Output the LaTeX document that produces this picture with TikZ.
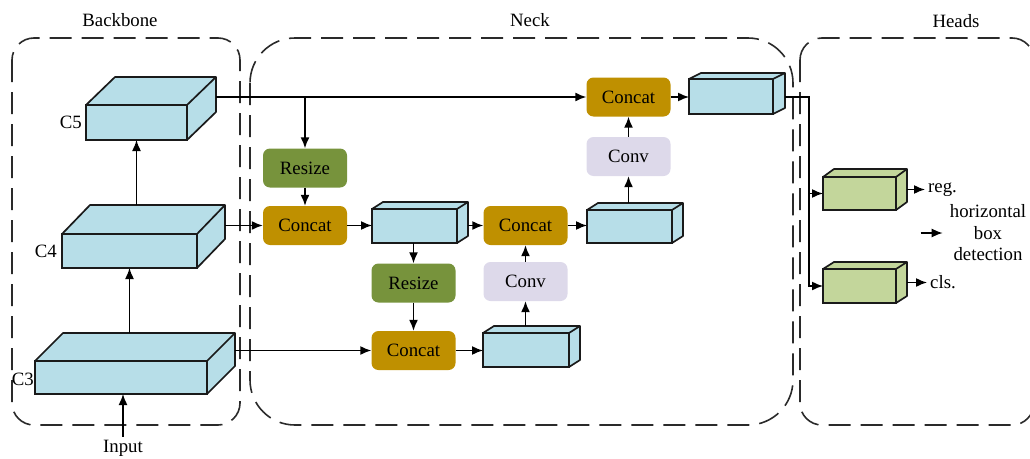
\documentclass[tikz,border=0pt]{standalone}
\usepackage{fontspec}
\setmainfont{Liberation Serif}
\usepackage{tikz}
\usetikzlibrary{positioning,calc,arrows.meta}
\definecolor{cubeblue}{HTML}{B7DEE8}
\definecolor{headgreen}{HTML}{C3D69B}
\definecolor{concatgold}{HTML}{BF9000}
\definecolor{resizegreen}{HTML}{77933C}
\definecolor{convlilac}{HTML}{DDD9EA}
\definecolor{cubeline}{HTML}{1A1A1A}
\definecolor{regionline}{HTML}{2A2A2A}
\newcommand{\cubefaces}[4]{%
  \filldraw[cubeedge, fill=#4] (#1.north west) -- ++(#2,#3) -- ($(#1.north east)+(#2,#3)$) -- ($(#1.south east)+(#2,#3)$) -- (#1.south east) -- (#1.north east) -- cycle;
  \draw[cubeedge] (#1.north east) -- ++(#2,#3);
  \coordinate (#1-bk) at ($(#1.north east)+(#2,#3)$);
  \coordinate (#1-sd) at ($(#1.east)+(#2,#3/2)$);}

\begin{document}
\begin{tikzpicture}[x=1pt, y=-1pt, lbl/.style={font=\fontsize{18.8}{21.5}\selectfont, inner sep=3pt}, cube/.style={draw=cubeline, line width=1.7pt, fill=cubeblue, inner sep=0pt, outer sep=0pt}, cubeedge/.style={draw=cubeline, line width=1.7pt, line join=round}, block/.style={rounded corners=7pt, minimum width=84pt, minimum height=39pt, inner sep=0pt, font=\fontsize{18.8}{21.5}\selectfont}, arrow/.style={-{Latex[length=11pt,width=9pt]}, line width=1.5pt}, region/.style={draw=regionline, dash pattern=on 22pt off 10pt, line width=1.6pt}]
\useasboundingbox (0,0) rectangle (1030,458);
\draw[region, rounded corners=22pt] (12,38) rectangle (240,425);
\draw[region, rounded corners=45pt] (250,38) rectangle (793,425);
\draw[region, rounded corners=22pt] (800,38) rectangle (1034,425);
\node[lbl] (bbl) at (120,20) {Backbone};
\node[lbl] (nkl) at (530,20) {Neck};
\node[lbl] (hdl) at (956,21) {Heads};
\node[cube, minimum width=101pt, minimum height=35pt] (c5) at (136.5,122.5) {};
\cubefaces{c5}{29}{-28}{cubeblue}
\node[cube, minimum width=135pt, minimum height=34pt] (c4) at (129.5,251) {};
\cubefaces{c4}{28}{-29}{cubeblue}
\node[cube, minimum width=172pt, minimum height=33pt] (c3) at (121,377.5) {};
\cubefaces{c3}{28}{-28}{cubeblue}
\node[lbl, left=1pt of c5.west] (c5l) {C5};
\node[lbl, left=2pt of c4.west] (c4l) {C4};
\node[lbl, anchor=east, inner sep=1pt] (c3l) at ([yshift=-2pt]c3.west) {C3};
\node[lbl] (input) at (123,448) {Input};
\node[block, fill=resizegreen] (rs1) at (305,168) {Resize};
\node[block, fill=concatgold] (cc1) at (305,225.5) {Concat};
\node[cube, minimum width=85pt, minimum height=34pt] (n1) at (414.5,226) {};
\cubefaces{n1}{11}{-7}{cubeblue}
\node[block, fill=concatgold] (cc2) at (525.5,225.5) {Concat};
\node[cube, minimum width=85pt, minimum height=33pt] (n2) at (629.5,226.5) {};
\cubefaces{n2}{11}{-7}{cubeblue}
\node[block, fill=convlilac] (conv1) at (628.5,156.5) {Conv};
\node[block, fill=concatgold] (cc3) at (628.5,97) {Concat};
\node[cube, minimum width=84pt, minimum height=35pt] (n3) at (731,96.5) {};
\cubefaces{n3}{12}{-6}{cubeblue}
\node[block, fill=resizegreen] (rs2) at (413.5,283) {Resize};
\node[block, fill=concatgold] (cc4) at (413.5,350.5) {Concat};
\node[block, fill=convlilac] (conv2) at (525.5,281.5) {Conv};
\node[cube, minimum width=86pt, minimum height=34pt] (n4) at (526,350) {};
\cubefaces{n4}{11}{-7}{cubeblue}
\node[cube, fill=headgreen, minimum width=73pt, minimum height=33pt] (h1) at (859.5,193.5) {};
\cubefaces{h1}{11}{-8}{headgreen}
\node[cube, fill=headgreen, minimum width=73pt, minimum height=34pt] (h2) at (859.5,286) {};
\cubefaces{h2}{11}{-7}{headgreen}
\node[lbl, right=18pt of h1-sd] (reg) {reg.};
\node[lbl, right=20pt of h2-sd] (cls) {cls.};
\node[lbl, align=center] (hbd) at (988,233) {horizontal\\box\\detection};
\coordinate (hx) at ($(h1.west)+(-14,0)$);
\draw[arrow] (input.north) -- (input.north |- c3.south);
\draw[arrow] (c4.south |- c3-bk) -- (c4.south);
\draw[arrow] (c5.south |- c4-bk) -- (c5.south);
\draw[arrow] (c5-bk |- cc3.west) -- (cc3.west);
\draw[arrow] (rs1.north |- cc3.west) -- (rs1.north);
\draw[arrow] (rs1.south) -- (cc1.north);
\draw[arrow] (c4-bk |- cc1.west) -- (cc1.west);
\draw[arrow] (cc1.east) -- (cc1.east -| n1.west);
\draw[arrow] (n1-bk |- cc2.west) -- (cc2.west);
\draw[arrow] (cc2.east) -- (cc2.east -| n2.west);
\draw[arrow] (conv1.south |- n2-bk) -- (conv1.south);
\draw[arrow] (conv1.north) -- (cc3.south);
\draw[arrow] (cc3.east) -- (cc3.east -| n3.west);
\draw[arrow] (rs2.north |- n1.south) -- (rs2.north);
\draw[arrow] (rs2.south) -- (cc4.north);
\draw[arrow] (c3-bk |- cc4.west) -- (cc4.west);
\draw[arrow] (cc4.east) -- (cc4.east -| n4.west);
\draw[arrow] (conv2.south |- n4-bk) -- (conv2.south);
\draw[arrow] (conv2.north) -- (cc2.south);
\draw[arrow] (n3-bk |- cc3.east) -| (hx |- h2.west) -- (h2.west);
\draw[arrow] (hx) -- (h1.west);
\draw[arrow] (h1-sd) -- (reg.west);
\draw[arrow] (h2-sd) -- (cls.west);
\draw[arrow] ([xshift=-26pt]hbd.west) -- ([xshift=-4pt]hbd.west);
\end{tikzpicture}
\end{document}
